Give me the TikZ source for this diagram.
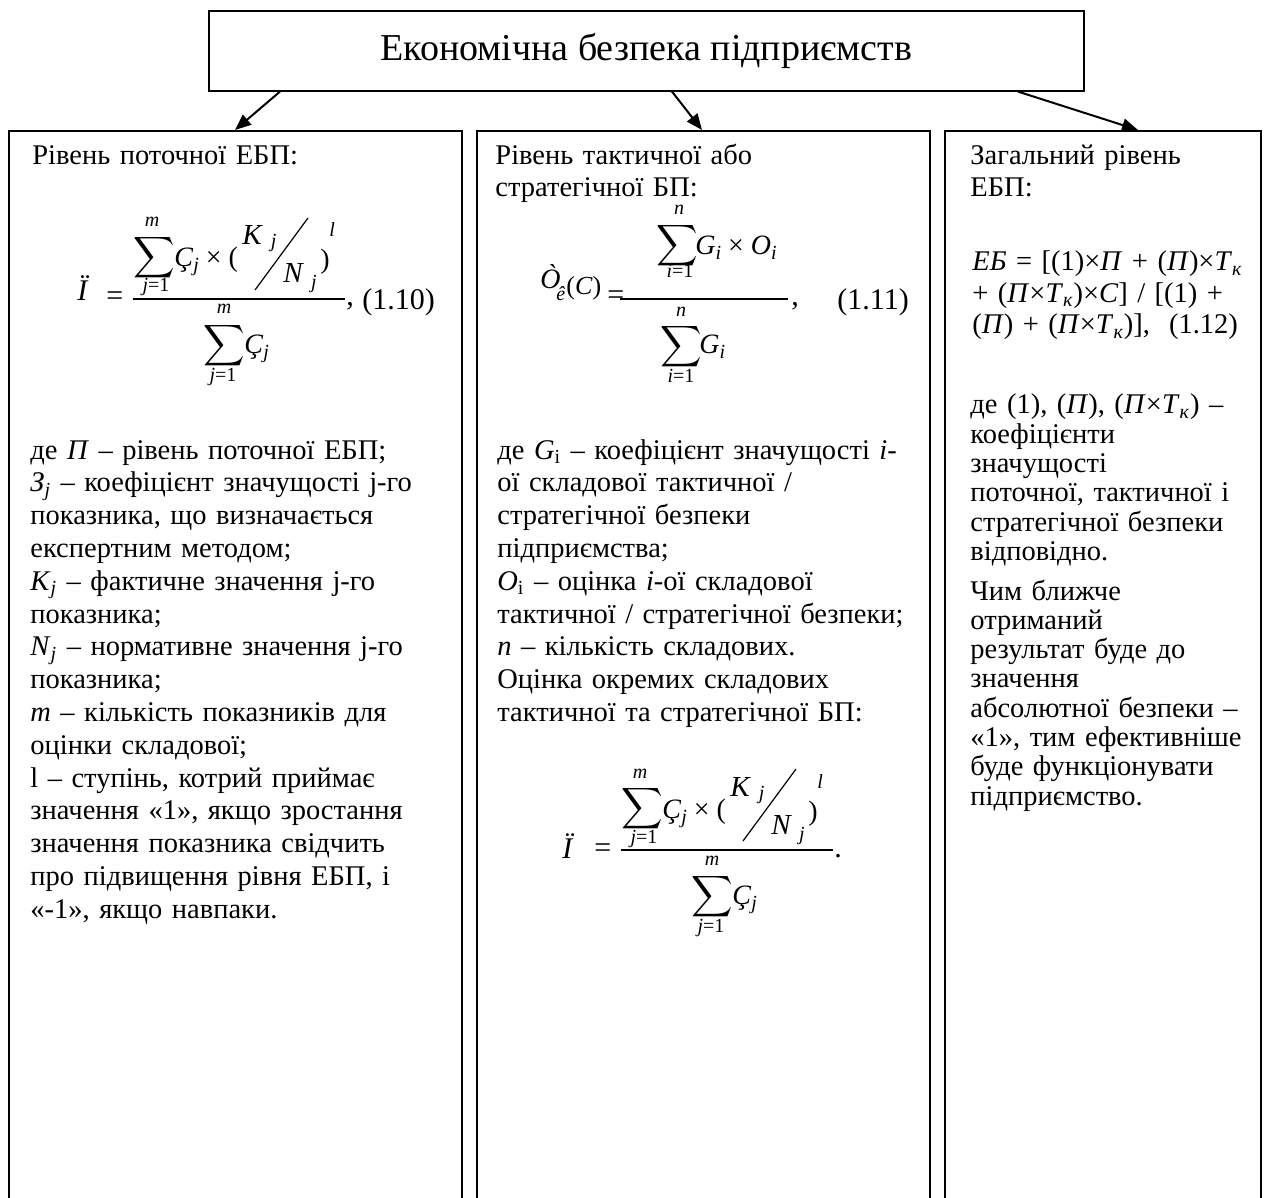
\documentclass[tikz,border=0pt]{standalone}
\usepackage{amsmath}
\usepackage{fontspec}
\setmainfont{Liberation Serif}
\usetikzlibrary{arrows.meta,calc}

\newcommand{\sbj}[1]{\raisebox{-2.5pt}{\fontsize{10}{10}\selectfont\textit{#1}}}

\tikzset{
  box/.style={draw, line width=1pt, anchor=north west, inner sep=0pt},
  txt/.style={anchor=base west, inner sep=0pt, text width=300pt, align=left,
              font=\fontsize{14.25}{16.4}\selectfont},
  txthead/.style={txt, font=\fontsize{14.25}{16}\selectfont},
  txtthree/.style={txt, font=\fontsize{14.25}{14.65}\selectfont},
  txtform/.style={txt, font=\fontsize{14.25}{15.75}\selectfont},
  fi/.style={anchor=base west, inner sep=0pt, font=\fontsize{14}{16}\selectfont},
  fc/.style={anchor=base west, inner sep=0pt, font=\fontsize{13}{16}\selectfont},
  fk/.style={anchor=base west, inner sep=0pt, font=\fontsize{14.5}{16}\selectfont},
  fn/.style={anchor=base west, inner sep=0pt, font=\fontsize{15}{18}\selectfont},
  lim/.style={anchor=base, inner sep=0pt, font=\fontsize{10}{12}\selectfont},
  sig/.style={anchor=center, inner sep=0pt, font=\fontsize{15}{18}\selectfont},
  barline/.style={line width=0.7pt},
  arr/.style={-{Triangle[length=8pt,width=6.5pt]}, line width=1pt},
}

% fraction of formula (1.10), in the coordinates of box 1
\newcommand{\PFormula}{%
  \node[sig] (s1) at (154,258) {$\displaystyle\sum$};
  \node[lim] (s1u) at (152,227) {\textit{m}};
  \node[lim] (s1l) at (156,292) {\textit{j}=1};
  \node[fi] (c1) at (174,267) {\textit{Ç}\sbj{j} × (};
  \node[fk] (k1) at (242,245) {\textit{K}\kern4pt\raisebox{-1.5pt}{\fontsize{10}{10}\selectfont\textit{j}}};
  \coordinate (sl1) at (255,290);
  \coordinate (sl2) at (308,218);
  \draw[line width=0.6pt] (sl1) -- (sl2);
  \node[fk] (nn1) at (283,283) {\textit{N}\kern3.5pt\raisebox{-3pt}{\fontsize{10}{10}\selectfont\textit{j}}};
  \node[fi] (cp) at (320,269) {)};
  \node[lim, anchor=base west] (ex) at (329,237) {\textit{l}};
  \coordinate (bar1) at (133,299);
  \coordinate (bar2) at (345,299);
  \draw[barline] (bar1) -- (bar2);
  \node[sig] (s2) at (224,345.5) {$\displaystyle\sum$};
  \node[lim] (s2u) at (224,314) {\textit{m}};
  \node[lim] (s2l) at (223,381) {\textit{j}=1};
  \node[fi] (c2) at (244,353) {\textit{Ç}\sbj{j}};
}

\begin{document}
\begin{tikzpicture}[x=0.5pt,y=-0.5pt]
\useasboundingbox (0,0) rectangle (1264,1198);
\clip (0,0) rectangle (1264,1198);

% boxes
\node[box, line width=0.8pt, minimum width=437.5pt, minimum height=40pt,
      font=\fontsize{19}{22}\selectfont] (top) at (208,10) {Економічна безпека підприємств};
\node[box, minimum width=226.5pt, minimum height=550pt] (b1) at (8,130) {};
\node[box, minimum width=226.5pt, minimum height=550pt] (b2) at (476,130) {};
\node[box, minimum width=158pt, minimum height=550pt] (b3) at (944,130) {};

% arrows
\draw[arr] ($(top.south west)+(72,0)$) -- ($(b1.north west)+(227,0)$);
\draw[arr] ($(top.south west)+(464,0)$) -- ($(b2.north west)+(226,0)$);
\draw[arr] ($(top.south west)+(810,0)$) -- ($(b3.north west)+(194,0)$);

% ---- box 1
\node[txthead] (h1) at (32,165) {Рівень поточної ЕБП:};
\node[fn] (p1) at (77,300) {\textit{Ï}};
\node[fn] (eq1) at (106,306) {=};
\begin{scope}[name prefix=a-]
  \PFormula
\end{scope}
\node[fn] (cm1) at (346,306) {,};
\node[fn] (n1) at (362,310) {(1.10)};
\node[txt] (t1) at (30,459) {де \textit{П} – рівень поточної ЕБП;\\
\textit{З}\textsubscript{\textit{j}} – коефіцієнт значущості j-го\\
показника, що визначається\\
експертним методом;\\
\textit{K}\textsubscript{\textit{j}} – фактичне значення j-го\\
показника;\\
\textit{N}\textsubscript{\textit{j}} – нормативне значення j-го\\
показника;\\
\textit{m} – кількість показників для\\
оцінки складової;\\
l – ступінь, котрий приймає\\
значення «1», якщо зростання\\
значення показника свідчить\\
про підвищення рівня ЕБП, і\\
«-1», якщо навпаки.};

% ---- box 2
\node[txthead] (h2) at (495,165) {Рівень тактичної або\\стратегічної БП:};
\node[fi] (o1) at (540,289) {\textit{Ò}};
\node[lim, anchor=base west] (o1s) at (556,300) {\textit{ê}};
\node[fc] (o1c) at (566,295) {(\textit{C})};
\node[fn] (eq2) at (607,305) {=};
\node[sig] (g1) at (677,245.5) {$\displaystyle\sum$};
\node[lim] (g1u) at (679,215) {\textit{n}};
\node[lim] (g1l) at (680,278) {\textit{i}=1};
\node[fi] (g1t) at (695,255) {\textit{G}\sbj{i} × \textit{O}\sbj{i}};
\coordinate (bar3) at (620,299);
\coordinate (bar4) at (788,299);
\draw[barline] (bar3) -- (bar4);
\node[sig] (g2) at (681,346.5) {$\displaystyle\sum$};
\node[lim] (g2u) at (681,316) {\textit{n}};
\node[lim] (g2l) at (681,382) {\textit{i}=1};
\node[fi] (g2t) at (699,353) {\textit{G}\sbj{i}};
\node[fn] (cm2) at (791,306) {,};
\node[fn] (n2b) at (837,310) {(1.11)};
\node[txt] (t2) at (497,459) {де \textit{G}\textsubscript{i} – коефіцієнт значущості \textit{i}-\\
ої складової тактичної /\\
стратегічної безпеки\\
підприємства;\\
\textit{O}\textsubscript{i} – оцінка \textit{i}-ої складової\\
тактичної / стратегічної безпеки;\\
\textit{n} – кількість складових.\\
Оцінка окремих складових\\
тактичної та стратегічної БП:};
\node[fn] (p2) at (562,858) {\textit{Ï}};
\node[fn] (eq3) at (594,857) {=};
\begin{scope}[shift={(488,551)}, name prefix=b-]
  \PFormula
\end{scope}
\node[fn] (dot3) at (834,857) {.};

% ---- box 3
\node[txthead] (h3) at (970,165) {Загальний рівень\\ЕБП:};
\node[txtform] (f3) at (972,271) {\textit{ЕБ} = [(1)×\textit{П} + (\textit{П})×\textit{T}\textsubscript{\textit{к}}\\
+ (\textit{П}×\textit{T}\textsubscript{\textit{к}})×\textit{C}] / [(1) +\\
(\textit{П}) + (\textit{П}×\textit{T}\textsubscript{\textit{к}})],\ \ (1.12)};
\node[txtthree] (t3) at (970,414) {де (1), (\textit{П}), (\textit{П}×\textit{T}\textsubscript{\textit{к}}) –\\
коефіцієнти\\
значущості\\
поточної, тактичної і\\
стратегічної безпеки\\
відповідно.};
\node[txtthree] (t3b) at (970,600) {Чим ближче\\
отриманий\\
результат буде до\\
значення\\
абсолютної безпеки –\\
«1», тим ефективніше\\
буде функціонувати\\
підприємство.};
\end{tikzpicture}
\end{document}
